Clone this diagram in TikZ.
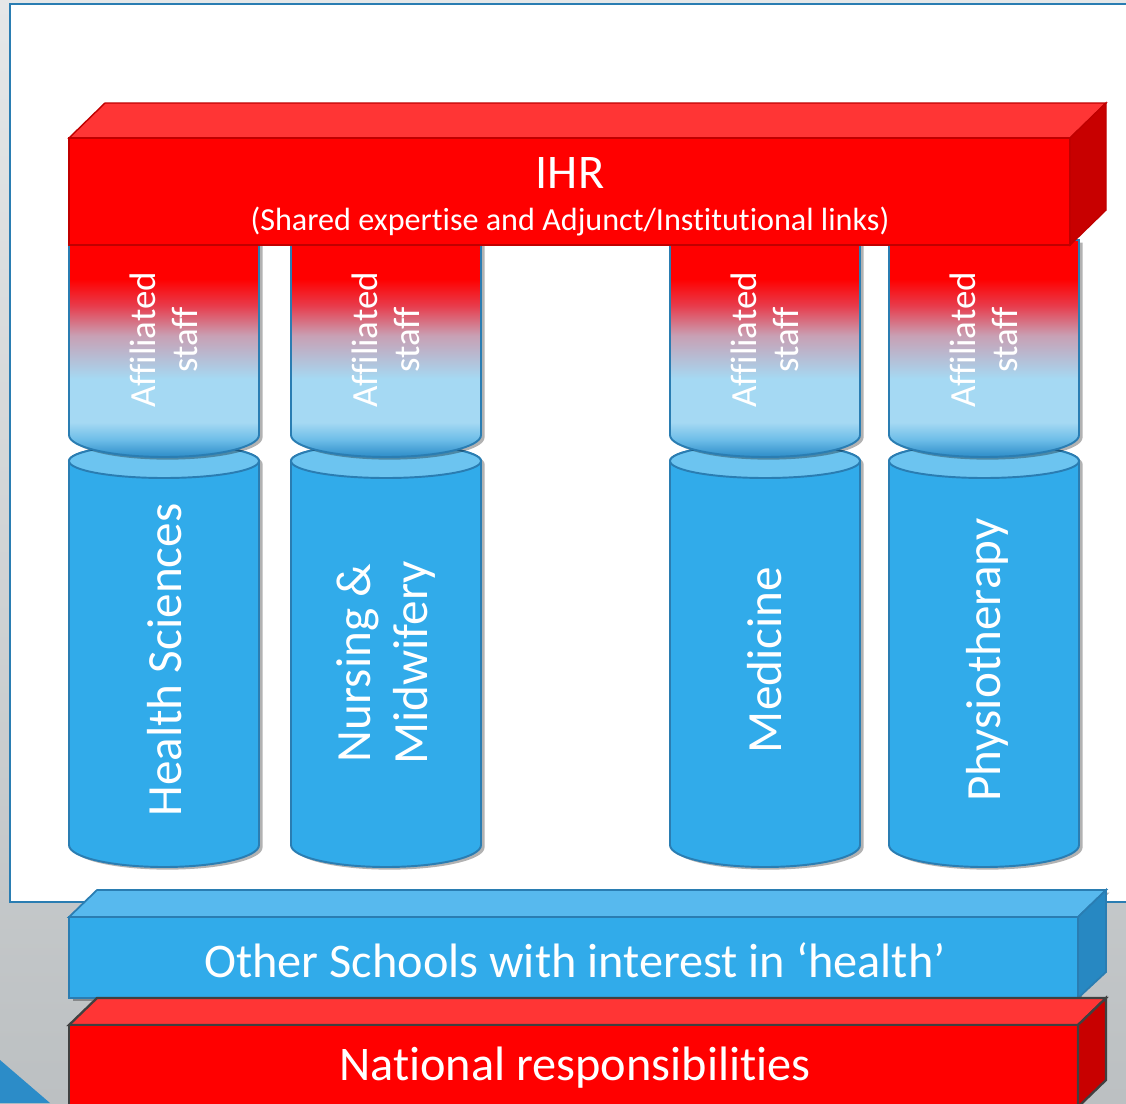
\documentclass[tikz,border=0pt]{standalone}
\usepackage{fontspec}
\setmainfont{Carlito}[Ligatures={NoCommon}]
\usetikzlibrary{shadows}

\definecolor{ihrred}{HTML}{FF0000}
\definecolor{ihrtop}{HTML}{FF3535}
\definecolor{ihrside}{HTML}{C80000}
\definecolor{ihrline}{HTML}{C00000}
\definecolor{colblue}{HTML}{31ABEA}
\definecolor{coltop}{HTML}{6CC4F0}
\definecolor{colline}{HTML}{2A7DB2}
\definecolor{bartop}{HTML}{57B9EE}
\definecolor{barside}{HTML}{2788C2}
\definecolor{bgtop}{HTML}{E5E7E8}
\definecolor{bgbot}{HTML}{BCC0C2}
\definecolor{rimblue}{HTML}{2C8CC8}
\definecolor{midblue}{HTML}{6DBDE8}
\definecolor{paleblue}{HTML}{A5D9F3}
\definecolor{mauve}{HTML}{C8A0B4}
\definecolor{pinkred}{HTML}{E83A4A}

\pgfdeclareverticalshading{affilshade}{100bp}{color(0bp)=(rimblue); color(25bp)=(rimblue);
  color(29bp)=(midblue); color(33bp)=(paleblue); color(43bp)=(paleblue);
  color(53bp)=(mauve); color(60bp)=(pinkred); color(66bp)=(ihrred); color(100bp)=(ihrred)}

\tikzset{
  softshadow/.style={drop shadow={shadow xshift=2pt, shadow yshift=-1.5pt, opacity=.3, fill=black}},
  colbody/.style={fill=colblue, draw=colline, line width=1.1pt, softshadow},
  colcap/.style={fill=coltop, draw=colline, line width=1.1pt},
  affilcol/.style={shading=affilshade, draw=colline, line width=1.1pt, softshadow},
  coltext/.style={text=white, rotate=90, align=center, font=\fontsize{28}{32}\selectfont},
  stafftext/.style={text=white, rotate=90, align=center, font=\fontsize{21}{24}\selectfont},
  bartext/.style={text=white, font=\fontsize{27.5}{30}\selectfont},
  subtext/.style={text=white, font=\fontsize{18.3}{20}\selectfont},
}

\begin{document}
\begin{tikzpicture}[x=0.02cm, y=-0.02cm]
\useasboundingbox (0,0) rectangle (1126,1103);
\clip (0,0) rectangle (1126,1103);
% slide background
\shade[top color=bgtop, bottom color=bgbot] (0,0) rectangle (1126,1103);
\fill[fill=white, draw=colline, line width=1.2pt] (10,4) rectangle (1150,902);
\fill[rimblue] (0,1060) -- (50,1103) -- (0,1103) -- cycle;

% lower columns
\draw[colbody] (69,461) -- (69,845) arc[start angle=180, end angle=0, x radius=95, y radius=22] -- (259,461) arc[start angle=0, end angle=-180, x radius=95, y radius=17] -- cycle;
\draw[colbody] (291,461) -- (291,845) arc[start angle=180, end angle=0, x radius=95, y radius=22] -- (481,461) arc[start angle=0, end angle=-180, x radius=95, y radius=17] -- cycle;
\draw[colbody] (670,461) -- (670,845) arc[start angle=180, end angle=0, x radius=95, y radius=22] -- (860,461) arc[start angle=0, end angle=-180, x radius=95, y radius=17] -- cycle;
\draw[colbody] (889,461) -- (889,845) arc[start angle=180, end angle=0, x radius=95, y radius=22] -- (1079,461) arc[start angle=0, end angle=-180, x radius=95, y radius=17] -- cycle;
\draw[colcap] (164,461) ellipse [x radius=95, y radius=17];
\draw[colcap] (386,461) ellipse [x radius=95, y radius=17];
\draw[colcap] (765,461) ellipse [x radius=95, y radius=17];
\draw[colcap] (984,461) ellipse [x radius=95, y radius=17];

% affiliated staff columns
\draw[affilcol] (69,240) -- (69,435) arc[start angle=180, end angle=0, x radius=95, y radius=22] -- (259,240) -- cycle;
\draw[affilcol] (291,240) -- (291,435) arc[start angle=180, end angle=0, x radius=95, y radius=22] -- (481,240) -- cycle;
\draw[affilcol] (670,240) -- (670,435) arc[start angle=180, end angle=0, x radius=95, y radius=22] -- (860,240) -- cycle;
\draw[affilcol] (889,240) -- (889,435) arc[start angle=180, end angle=0, x radius=95, y radius=22] -- (1079,240) -- cycle;

\node[stafftext] (aff1) at (164,340) {Affiliated\\staff};
\node[stafftext] (aff2) at (386,340) {Affiliated\\staff};
\node[stafftext] (aff3) at (765,340) {Affiliated\\staff};
\node[stafftext] (aff4) at (984,340) {Affiliated\\staff};

\node[coltext] (health) at (165,660) {Health Sciences};
\node[coltext] (nursing) at (386,663) {Nursing \&\\Midwifery};
\node[coltext] (medicine) at (765,660) {Medicine};
\node[coltext] (physio) at (987,660) {Physiotherapy};

% IHR beam
\draw[fill=ihrtop, draw=ihrline, line width=.8pt] (69,138) -- (105,103) -- (1106,103) -- (1070,138) -- cycle;
\draw[fill=ihrside, draw=ihrline, line width=.8pt] (1070,138) -- (1106,103) -- (1106,210) -- (1070,245) -- cycle;
\draw[fill=ihrred, draw=ihrline, line width=.8pt] (69,138) rectangle (1070,245);
\node[bartext] (ihr) at (570,173) {IHR};
\node[subtext] (ihrsub) at (570,221) {(Shared expertise and Adjunct/Institutional links)};

% other schools bar
\draw[fill=bartop, draw=colline, line width=1pt, softshadow] (69,917) -- (97,890) -- (1106,890) -- (1078,917) -- cycle;
\draw[fill=colblue, draw=colline, line width=1pt, softshadow] (69,917) rectangle (1078,998);
\draw[fill=barside, draw=colline, line width=1pt] (1078,917) -- (1106,890) -- (1106,972) -- (1078,998) -- cycle;
\node[bartext] (other) at (575,960) {Other Schools with interest in ‘health’};

% national responsibilities bar
\draw[fill=ihrtop, draw=black!75, line width=1.3pt] (69,1025) -- (97,998) -- (1106,998) -- (1078,1025) -- cycle;
\draw[fill=ihrred, draw=black!75, line width=1.3pt] (69,1025) rectangle (1078,1120);
\draw[fill=ihrside, draw=black!75, line width=1.3pt] (1078,1025) -- (1106,998) -- (1106,1080) -- (1078,1107) -- cycle;
\node[bartext] (national) at (575,1068) {National responsibilities};
\end{tikzpicture}
\end{document}
